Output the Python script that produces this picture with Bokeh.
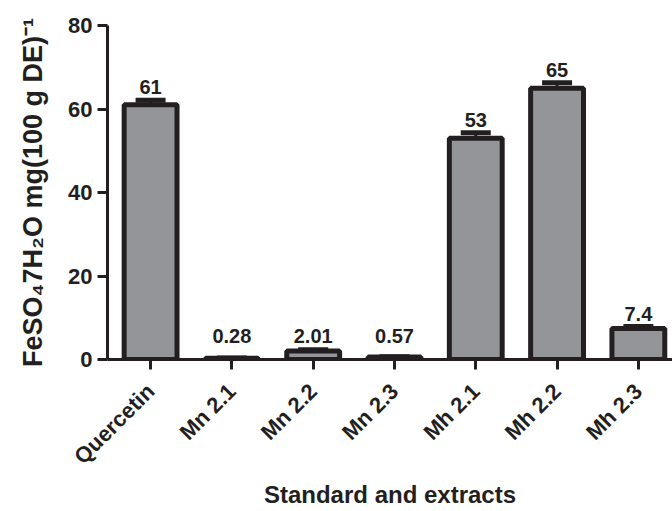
from math import pi
from bokeh.plotting import figure
from bokeh.models import ColumnDataSource, Range1d, FixedTicker, Whisker, TeeHead
from bokeh.embed import file_html
from bokeh.resources import INLINE
from bokeh.core.properties import value

categories = ["Quercetin", "Mn 2.1", "Mn 2.2", "Mn 2.3", "Mh 2.1", "Mh 2.2", "Mh 2.3"]
values = [61.0, 0.28, 2.01, 0.57, 53.0, 65.0, 7.4]
errors = [1.1, 0.1, 0.35, 0.1, 1.3, 1.3, 0.5]
labels = ["61", "0.28", "2.01", "0.57", "53", "65", "7.4"]
y_ticks = [0, 20, 40, 60, 80]

INK = "#231f20"
FILL = "#939598"
FONT = "Liberation Sans"

x = list(range(len(categories)))
tops = [v + e for v, e in zip(values, errors)]
label_y = [max(t, 2.4) for t in tops]

src = ColumnDataSource(dict(x=x, v=values, top=tops, ly=label_y, lab=labels))

p = figure(width=672, height=511, output_backend="svg", toolbar_location=None,
           x_range=Range1d(-0.53, 6.42), y_range=Range1d(0, 80),
           min_border_left=107, min_border_right=0, min_border_top=25,
           min_border_bottom=152)
p.outline_line_color = None
p.grid.visible = False

p.vbar(x="x", top="v", bottom=0, width=0.65, source=src,
       fill_color=FILL, line_color=INK, line_width=5)

w = Whisker(base="x", lower="v", upper="top", source=src,
            line_color=INK, line_width=3,
            upper_head=TeeHead(size=30, line_width=5, line_color=INK),
            lower_head=None)
p.add_layout(w)

p.text(x="x", y="ly", text="lab", source=src, text_align="center",
       text_baseline="alphabetic", y_offset=-13,
       text_font=value(FONT), text_font_style="bold", text_font_size="20px",
       text_color=INK)

for ax in (p.xaxis, p.yaxis):
    ax.axis_line_width = 3
    ax.axis_line_color = INK
    ax.major_tick_line_width = 3
    ax.major_tick_line_color = INK
    ax.major_tick_out = 10
    ax.major_tick_in = 0
    ax.minor_tick_line_color = None
    ax.major_label_text_font = FONT
    ax.major_label_text_font_style = "bold"
    ax.major_label_text_color = INK
    ax.axis_label_text_font = FONT
    ax.axis_label_text_font_style = "bold"
    ax.axis_label_text_color = INK

p.xaxis.ticker = FixedTicker(ticks=x)
p.xaxis.major_label_overrides = {i: c for i, c in zip(x, categories)}
p.xaxis.major_label_orientation = pi / 4
p.xaxis.major_label_text_font_size = "22px"
p.xaxis.major_label_standoff = 18
p.xaxis.axis_label = "Standard and extracts"
p.xaxis.axis_label_text_font_size = "24px"
p.xaxis.axis_label_standoff = 0

p.yaxis.ticker = FixedTicker(ticks=y_ticks)
p.yaxis.major_label_text_font_size = "22px"
p.yaxis.major_label_standoff = 5
p.yaxis.axis_label = "FeSO\u20847H\u2082O mg(100 g DE)\u207b\u00b9"
p.yaxis.axis_label_text_font_size = "27px"
p.yaxis.axis_label_standoff = 17

open("out.html", "w").write(file_html(p, INLINE))
